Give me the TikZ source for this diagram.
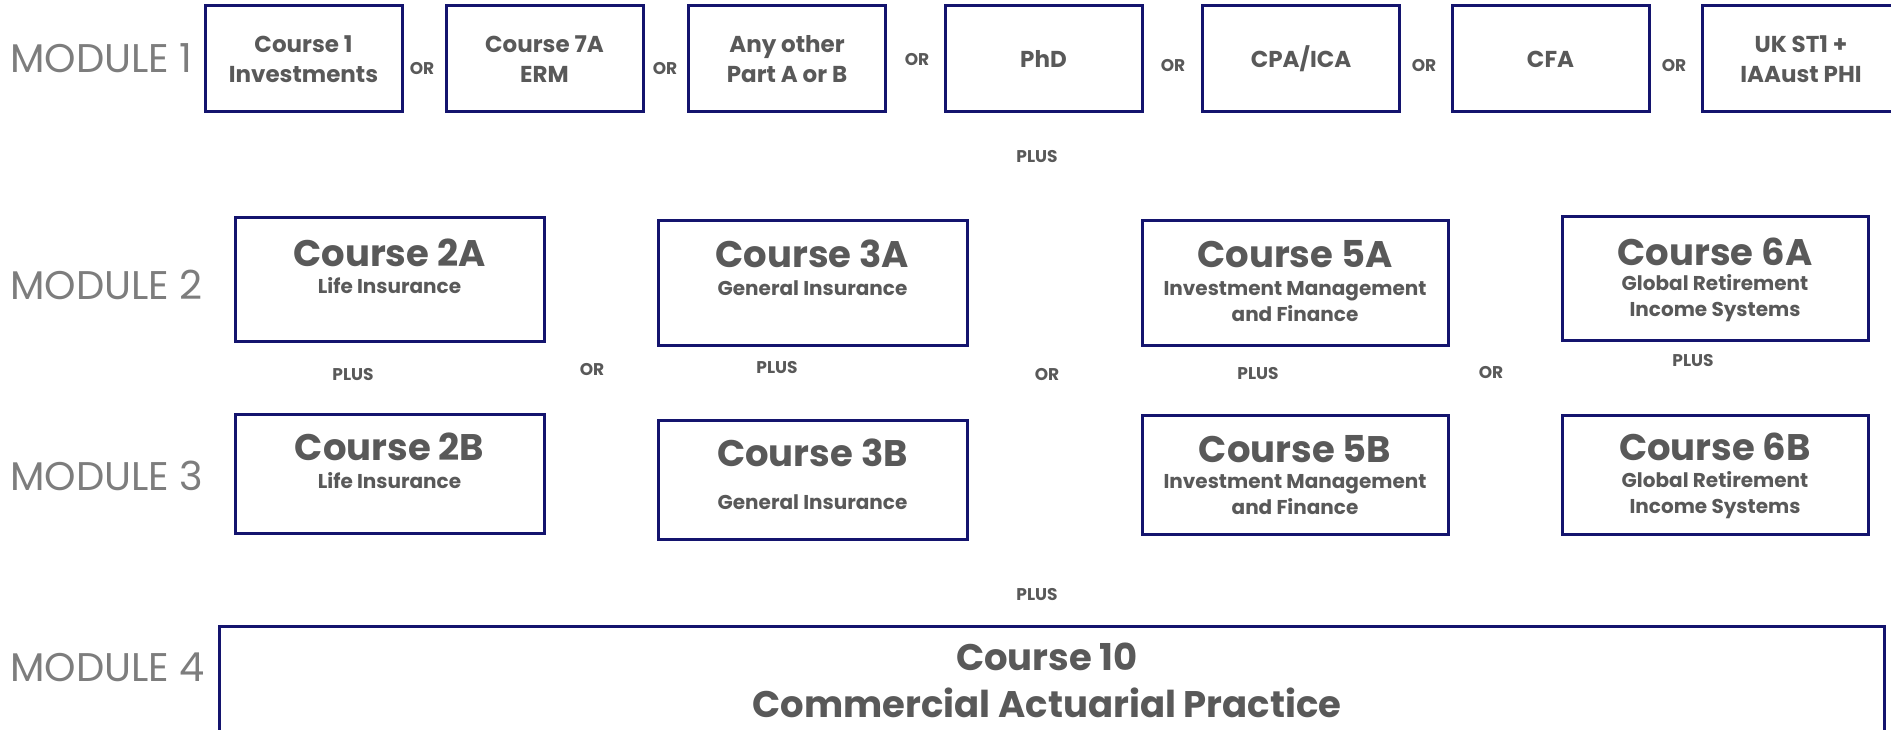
\documentclass[tikz,border=0pt]{standalone}
\usepackage{fontspec}
\setmainfont{Poppins}
\usetikzlibrary{positioning}
\definecolor{boxnavy}{RGB}{20,20,110}
\definecolor{textgrey}{RGB}{89,89,89}
\definecolor{modgrey}{RGB}{125,125,125}
\tikzset
{
    modlabel/.style   = {anchor=west, text=modgrey, inner sep=0pt, font=\fontsize{40}{42}\selectfont},
    smallbox/.style   = {draw=boxnavy, line width=3pt, minimum width=197pt, minimum height=106pt, align=center, text=textgrey, font=\bfseries\fontsize{23}{30}\selectfont},
    bigbox/.style     = {draw=boxnavy, line width=3pt, minimum width=309pt, inner sep=0pt},
    coursename/.style = {text=textgrey, inner sep=0pt, font=\bfseries\fontsize{37}{40}\selectfont},
    coursesub/.style  = {text=textgrey, inner sep=0pt, align=center, font=\bfseries\fontsize{20}{26}\selectfont},
    joinword/.style   = {text=textgrey, inner sep=0pt, font=\bfseries\fontsize{17}{18}\selectfont}
}
\begin{document}
\begin{tikzpicture}[x=1pt, y=-1pt]
\useasboundingbox (0,0) rectangle (1891,730);
\clip (0,0) rectangle (1891,730);
% module labels
\node [modlabel] at (10,58) (m1) {MODULE 1};
\node [modlabel] at (10,285) (m2) {MODULE 2};
\node [modlabel] at (10,476) (m3) {MODULE 3};
\node [modlabel] at (10,667) (m4) {MODULE 4};
% module 1
\node [smallbox] at (303.5,59) (c1) {Course 1\\Investments};
\node [smallbox] at (544.5,59) (c7a) {Course 7A\\ERM};
\node [smallbox] at (787,59) (other) {Any other\\Part A or B};
\node [smallbox] at (1043.5,59) (phd) {PhD};
\node [smallbox] at (1301,59) (cpa) {CPA/ICA};
\node [smallbox] at (1550.5,59) (cfa) {CFA};
\node [smallbox] at (1801,59) (ukst) {UK ST1 +\\IAAust PHI};
\node [joinword] at (422,69) (or1) {OR};
\node [joinword] at (665,69) (or2) {OR};
\node [joinword] at (917,60) (or3) {OR};
\node [joinword] at (1173,66) (or4) {OR};
\node [joinword] at (1424,66) (or5) {OR};
\node [joinword] at (1674,66) (or6) {OR};
\node [joinword] at (1037,157) (plus1) {PLUS};
% module 2
\node [bigbox, minimum height=123pt] at (389.5,279.5) (c2a) {};
\node [bigbox, minimum height=124pt] at (812.5,283) (c3a) {};
\node [bigbox, minimum height=124pt, minimum width=306pt] at (1295,283) (c5a) {};
\node [bigbox, minimum height=123pt, minimum width=306pt] at (1715,278.5) (c6a) {};
\node [coursename] at (389.5,253) (c2a-t) {Course 2A};
\node [coursesub] at (389.5,286) (c2a-s) {Life Insurance};
\node [coursename] at (812.5,254) (c3a-t) {Course 3A};
\node [coursesub] at (812.5,288) (c3a-s) {General Insurance};
\node [coursename] at (1295,254) (c5a-t) {Course 5A};
\node [coursesub] at (1295,302) (c5a-s) {Investment Management\\and Finance};
\node [coursename] at (1715,252) (c6a-t) {Course 6A};
\node [coursesub] at (1715,298.5) (c6a-s) {Global Retirement\\Income Systems};
% between modules 2 and 3
\node [joinword] at (353,375) (plus2a) {PLUS};
\node [joinword] at (592,370) (or2a) {OR};
\node [joinword] at (777,368) (plus3a) {PLUS};
\node [joinword] at (1047,375) (or3a) {OR};
\node [joinword] at (1258,374) (plus5a) {PLUS};
\node [joinword] at (1491,373) (or5a) {OR};
\node [joinword] at (1693,361) (plus6a) {PLUS};
% module 3
\node [bigbox, minimum height=119pt] at (389.5,473.5) (c2b) {};
\node [bigbox, minimum height=119pt] at (812.5,479.5) (c3b) {};
\node [bigbox, minimum height=119pt, minimum width=306pt] at (1295,474.5) (c5b) {};
\node [bigbox, minimum height=119pt, minimum width=306pt] at (1715,474.5) (c6b) {};
\node [coursename] at (389.5,447) (c2b-t) {Course 2B};
\node [coursesub] at (389.5,481) (c2b-s) {Life Insurance};
\node [coursename] at (812.5,453) (c3b-t) {Course 3B};
\node [coursesub] at (812.5,502) (c3b-s) {General Insurance};
\node [coursename] at (1295,449) (c5b-t) {Course 5B};
\node [coursesub] at (1295,495) (c5b-s) {Investment Management\\and Finance};
\node [coursename] at (1715,447) (c6b-t) {Course 6B};
\node [coursesub] at (1715,495.5) (c6b-s) {Global Retirement\\Income Systems};
% module 4
\node [joinword] at (1037,595) (plus4) {PLUS};
\node [bigbox, minimum height=150pt, minimum width=1665pt] at (1051.5,701) (c10) {};
\node [coursename] at (1047,657) (c10-t) {Course 10};
\node [coursename] at (1047,703) (c10-s) {Commercial Actuarial Practice};
\end{tikzpicture}
\end{document}
